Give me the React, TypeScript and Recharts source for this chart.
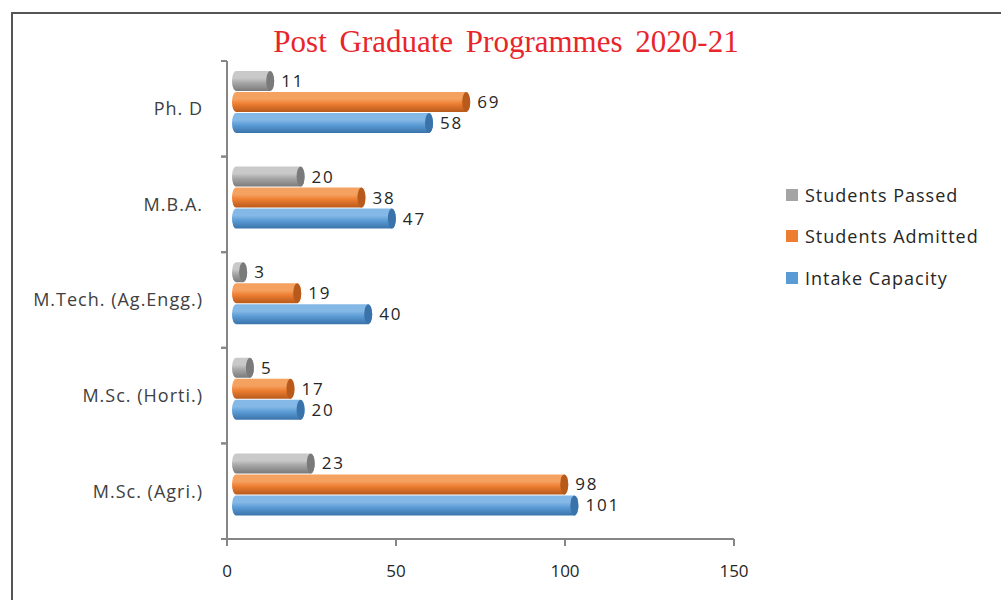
import React from "react"
import {
  BarChart,
  Bar,
  XAxis,
  YAxis,
  LabelList,
} from "recharts"

const PROGRAMMES = [
  "Ph. D",
  "M.B.A.",
  "M.Tech. (Ag.Engg.)",
  "M.Sc. (Horti.)",
  "M.Sc. (Agri.)",
]
const STUDENTS_PASSED = [11, 20, 3, 5, 23]
const STUDENTS_ADMITTED = [69, 38, 19, 17, 98]
const INTAKE_CAPACITY = [58, 47, 40, 20, 101]
const X_TICKS = [0, 50, 100, 150]

const SERIES = [
  { key: "passed", name: "Students Passed", values: STUDENTS_PASSED, color: "#a5a5a5", light: "#c9c9c9", dark: "#7a7a7a" },
  { key: "admitted", name: "Students Admitted", values: STUDENTS_ADMITTED, color: "#ed7d31", light: "#f5a15f", dark: "#b85a1c" },
  { key: "intake", name: "Intake Capacity", values: INTAKE_CAPACITY, color: "#5b9bd5", light: "#84b8e6", dark: "#3a73aa" },
]

const data = PROGRAMMES.map((name, i) => {
  const row: Record<string, string | number> = { name }
  SERIES.forEach((s) => (row[s.key] = s.values[i]))
  return row
})

const W = 1001
const H = 600
const TOP = 61
const BOTTOM = 61
const BAND = (H - TOP - BOTTOM) / PROGRAMMES.length
// 3D depth shift of the cylinders
const DX = 5
const DY = -7
const FONT = "'Open Sans', 'Noto Sans', sans-serif"

function Cylinder(props: any) {
  const { x, y, width, height, seriesKey } = props
  const s = SERIES.find((d) => d.key === seriesKey)!
  const bx = x + DX
  const by = y + DY
  const w = Math.max(width, 2)
  return (
    <g>
      <rect
        x={bx}
        y={by}
        width={w + 5}
        height={height}
        rx={4}
        ry={height / 2}
        fill={`url(#grad-${seriesKey})`}
      />
      <ellipse cx={bx + w + 1} cy={by + height / 2} rx={4} ry={height / 2} fill={s.dark} />
    </g>
  )
}

function ValueLabel(props: any) {
  const { x, y, width, height, value } = props
  return (
    <text
      x={x + width + DX + 12}
      y={y + height / 2 + DY}
      dy="0.35em"
      fontSize={17}
      letterSpacing={1.8}
      fontFamily={FONT}
      fill="#262626"
    >
      {value}
    </text>
  )
}

function CategoryTick(props: any) {
  const { x, y, payload } = props
  const half = BAND / 2
  return (
    <g>
      <line x1={x - 6} x2={x} y1={y - half} y2={y - half} stroke="#868686" strokeWidth={2} />
      <line x1={x - 6} x2={x} y1={y + half} y2={y + half} stroke="#868686" strokeWidth={2} />
      <text
        x={x - 24}
        y={y}
        dy="0.35em"
        textAnchor="end"
        fontSize={18}
        letterSpacing={1}
        fontFamily={FONT}
        fill="#404040"
      >
        {payload.value}
      </text>
    </g>
  )
}

export default function App() {
  return (
    <div style={{ position: "absolute", left: 0, top: 0, width: W, height: H, overflow: "hidden", background: "#fff" }}>
      <div
        style={{
          position: "absolute",
          left: 11,
          top: 12,
          width: W,
          height: H,
          borderLeft: "2px solid #555",
          borderTop: "2px solid #555",
        }}
      />
      <div
        style={{
          position: "absolute",
          left: 0,
          width: 1012,
          top: 27,
          textAlign: "center",
          fontFamily: "'Liberation Serif', 'DejaVu Serif', serif",
          fontSize: 31,
          lineHeight: "30px",
          color: "#e8252b",
          wordSpacing: 5,
        }}
      >
        Post Graduate Programmes 2020-21
      </div>
      <div style={{ position: "absolute", left: 0, top: 0 }}>
        <BarChart
          width={W}
          height={H}
          data={data}
          layout="vertical"
          margin={{ top: TOP, right: 267, left: 0, bottom: 0 }}
          barSize={20}
          barGap={1}
        >
          <defs>
            {SERIES.map((s) => (
              <linearGradient key={s.key} id={`grad-${s.key}`} x1="0" y1="0" x2="0" y2="1">
                <stop offset="0%" stopColor={s.light} />
                <stop offset="35%" stopColor={s.light} />
                <stop offset="60%" stopColor={s.color} />
                <stop offset="100%" stopColor={s.dark} />
              </linearGradient>
            ))}
          </defs>
          <XAxis
            type="number"
            domain={[0, 150]}
            ticks={X_TICKS}
            height={BOTTOM}
            axisLine={{ stroke: "#868686", strokeWidth: 2 }}
            tickLine={{ stroke: "#868686", strokeWidth: 2 }}
            tickSize={7}
            tickMargin={19}
            tick={{ fontSize: 17, fontFamily: FONT, fill: "#262626" }}
          />
          <YAxis
            type="category"
            dataKey="name"
            width={227}
            axisLine={{ stroke: "#868686", strokeWidth: 2 }}
            tickLine={false}
            tickSize={0}
            tickMargin={0}
            tick={<CategoryTick />}
            interval={0}
          />
          {SERIES.map((s) => (
            <Bar
              key={s.key}
              dataKey={s.key}
              name={s.name}
              fill={s.color}
              isAnimationActive={false}
              shape={(p: any) => <Cylinder {...p} seriesKey={s.key} />}
            >
              <LabelList dataKey={s.key} content={<ValueLabel />} />
            </Bar>
          ))}
        </BarChart>
      </div>
      <div
        style={{
          position: "absolute",
          left: 786,
          top: 174,
          fontFamily: FONT,
          fontSize: 18,
          letterSpacing: 1,
          color: "#262626",
        }}
      >
        {SERIES.map((s) => (
          <div key={s.key} style={{ display: "flex", alignItems: "center", height: 41.5 }}>
            <span style={{ display: "inline-block", width: 12, height: 12, background: s.color, marginRight: 7 }} />
            <span>{s.name}</span>
          </div>
        ))}
      </div>
    </div>
  )
}
